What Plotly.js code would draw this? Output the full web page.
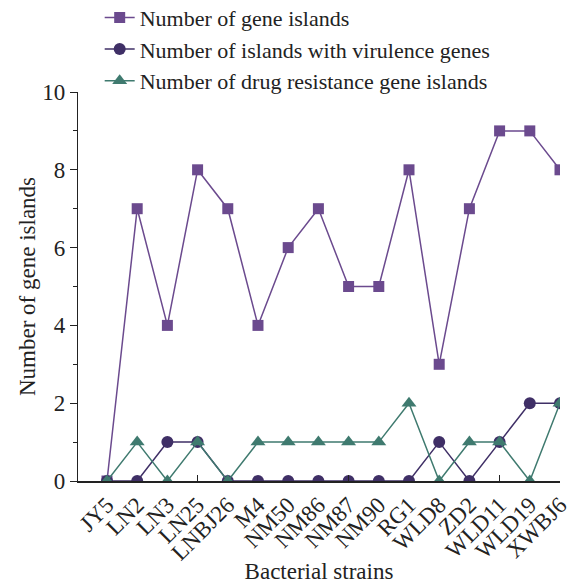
<!DOCTYPE html>
<html>
<head>
<meta charset="utf-8">
<script src="https://cdn.plot.ly/plotly-3.0.1.min.js"></script>
<style>html,body{margin:0;padding:0;background:#fff;}#chart{width:573px;height:584px;}</style>
</head>
<body>
<div id="chart"></div>
<script>
const strains = ["JY5","LN2","LN3","LN25","LNBJ26","M4","NM50","NM86","NM87","NM90","RG1","WLD8","ZD2","WLD11","WLD19","XWBJ6"];
const geneIslands = [0,7,4,8,7,4,6,7,5,5,8,3,7,9,9,8];
const virulenceIslands = [0,0,1,1,0,0,0,0,0,0,0,1,0,1,2,2];
const drugResistanceIslands = [0,1,0,1,0,1,1,1,1,1,2,0,1,1,0,2];
const yTickVals = [0,2,4,6,8,10];
const xInnerTicks = [3,8,13,15];

const font = "Liberation Serif, Times New Roman, serif";
const fs = 23;
const traces = [
  {x: strains, y: geneIslands, name: "Number of gene islands", mode: "lines+markers", cliponaxis: true,
   line: {color: "#6b4a8e", width: 1.5}, marker: {symbol: "square", size: 11, color: "#6b4a8e"}},
  {x: strains, y: virulenceIslands, name: "Number of islands with virulence genes", mode: "lines+markers", cliponaxis: true,
   line: {color: "#3f2f66", width: 1.5}, marker: {symbol: "circle", size: 12, color: "#3f2f66"}},
  {x: strains, y: drugResistanceIslands, name: "Number of drug resistance gene islands", mode: "lines+markers", cliponaxis: true,
   line: {color: "#3f7a6f", width: 1.5}, marker: {symbol: "triangle-up", size: 13, color: "#3f7a6f"}},
  {x: [xInnerTicks[0]], y: [0], xaxis: "x2", yaxis: "y", mode: "markers", showlegend: false,
   marker: {opacity: 0}, hoverinfo: "skip"}
];
const layout = {
  width: 573, height: 584,
  margin: {l: 78, r: 13, t: 92, b: 103, autoexpand: false},
  paper_bgcolor: "#fff", plot_bgcolor: "#fff",
  font: {family: font, size: fs, color: "#222"},
  showlegend: true,
  legend: {x: 0.045, y: 1.245, xanchor: "left", yanchor: "top", bgcolor: "rgba(0,0,0,0)",
           font: {family: font, size: 22, color: "#222"}, tracegroupgap: 0},
  xaxis: {type: "category", categoryorder: "array", categoryarray: strains,
          range: [-0.96, 15], showline: true, linecolor: "#222", linewidth: 1.5,
          ticks: "", tickangle: -45, showgrid: false, zeroline: false, automargin: false,
          tickfont: {family: font, size: fs, color: "#222"},
          title: {text: "Bacterial strains", font: {family: font, size: fs, color: "#222"}, standoff: 4}},
  xaxis2: {overlaying: "x", range: [-0.96, 15], showticklabels: false, tickmode: "array",
           tickvals: xInnerTicks, ticks: "inside", ticklen: 6, tickcolor: "#222", tickwidth: 1.2,
           showgrid: false, zeroline: false, showline: false, side: "bottom", anchor: "y"},
  yaxis: {range: [0, 10], tickmode: "array", tickvals: yTickVals, showline: true, automargin: false,
          linecolor: "#222", linewidth: 1.2, ticks: "outside", ticklen: 7, tickcolor: "#222",
          showgrid: false, zeroline: false,
          minor: {tickvals: [1,3,5,7,9], ticks: "outside", ticklen: 4, tickcolor: "#222", showgrid: false},
          tickfont: {family: font, size: fs, color: "#222"},
          title: {text: "Number of gene islands", font: {family: font, size: fs, color: "#222"}, standoff: 0}}
};
Plotly.newPlot("chart", traces, layout, {displayModeBar: false, staticPlot: true});
</script>
</body>
</html>
